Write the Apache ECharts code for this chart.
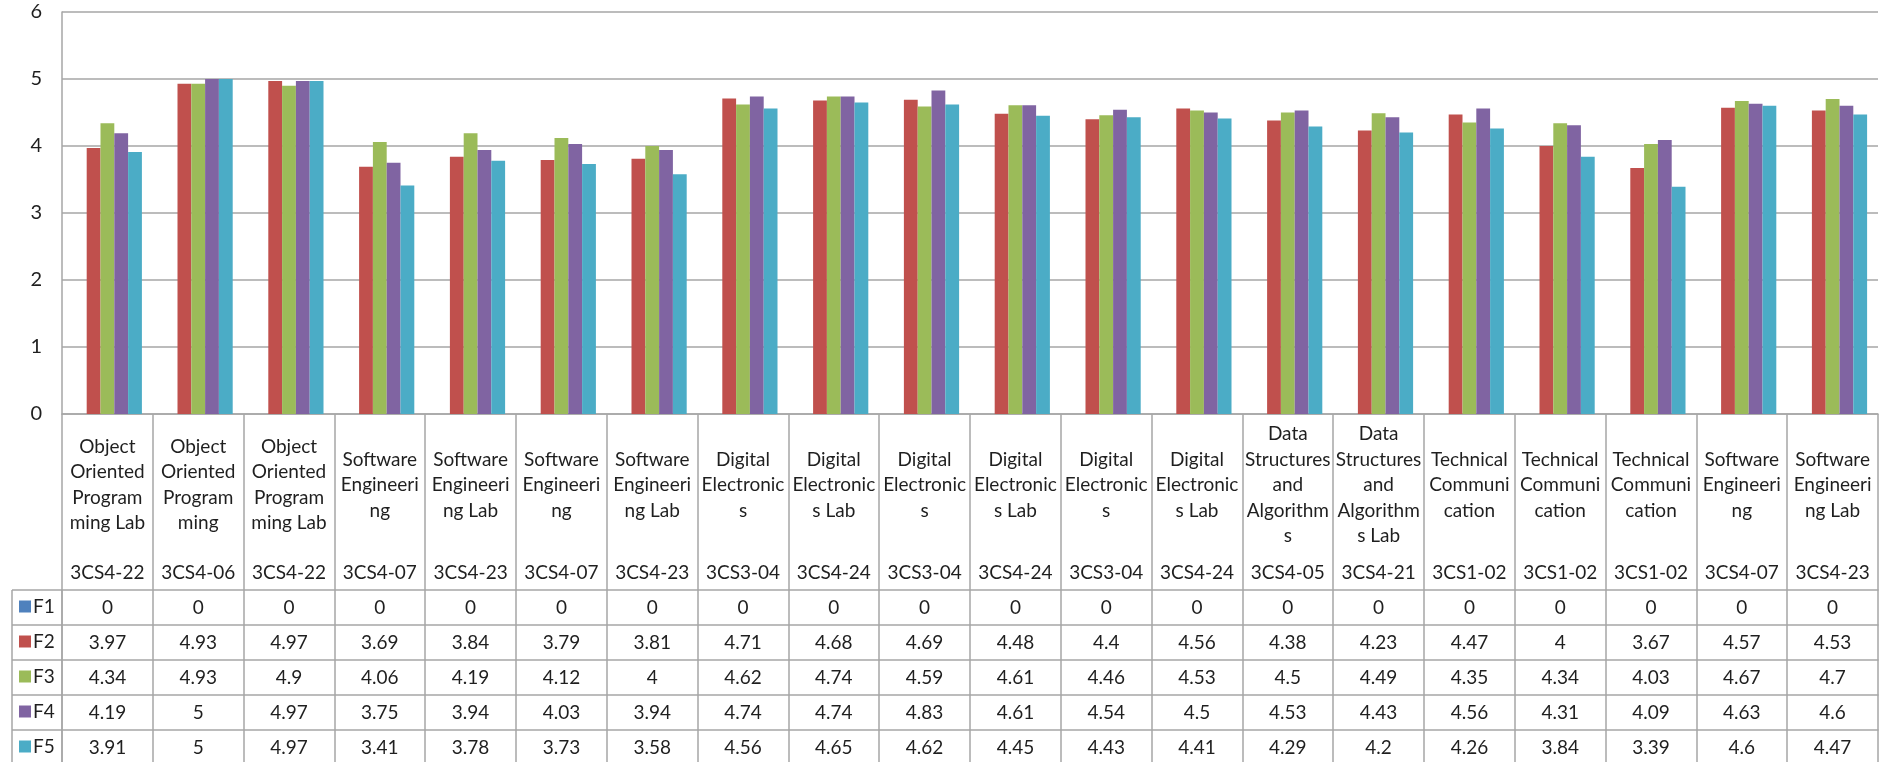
<!DOCTYPE html>
<html>
<head>
<meta charset="utf-8">
<script src="https://cdn.jsdelivr.net/npm/echarts@6/dist/echarts.min.js"></script>
<style>
  html, body { margin: 0; padding: 0; background: #fff; }
  #chart { width: 1884px; height: 762px; }
</style>
</head>
<body>
<div id="chart"></div>
<script>
// course names (wrapped as in the cell) and course codes
const courseNames = [
  "Object\nOriented\nProgram\nming Lab", "Object\nOriented\nProgram\nming", "Object\nOriented\nProgram\nming Lab",
  "Software\nEngineeri\nng", "Software\nEngineeri\nng Lab", "Software\nEngineeri\nng", "Software\nEngineeri\nng Lab",
  "Digital\nElectronic\ns", "Digital\nElectronic\ns Lab", "Digital\nElectronic\ns", "Digital\nElectronic\ns Lab",
  "Digital\nElectronic\ns", "Digital\nElectronic\ns Lab",
  "Data\nStructures\nand\nAlgorithm\ns", "Data\nStructures\nand\nAlgorithm\ns Lab",
  "Technical\nCommuni\ncation", "Technical\nCommuni\ncation", "Technical\nCommuni\ncation",
  "Software\nEngineeri\nng", "Software\nEngineeri\nng Lab"
];
const courseCodes = [
  "3CS4-22", "3CS4-06", "3CS4-22", "3CS4-07", "3CS4-23", "3CS4-07", "3CS4-23",
  "3CS3-04", "3CS4-24", "3CS3-04", "3CS4-24", "3CS3-04", "3CS4-24",
  "3CS4-05", "3CS4-21", "3CS1-02", "3CS1-02", "3CS1-02", "3CS4-07", "3CS4-23"
];

const seriesNames = ["F1", "F2", "F3", "F4", "F5"];
const f1 = [0, 0, 0, 0, 0, 0, 0, 0, 0, 0, 0, 0, 0, 0, 0, 0, 0, 0, 0, 0];
const f2 = [3.97, 4.93, 4.97, 3.69, 3.84, 3.79, 3.81, 4.71, 4.68, 4.69, 4.48, 4.4, 4.56, 4.38, 4.23, 4.47, 4, 3.67, 4.57, 4.53];
const f3 = [4.34, 4.93, 4.9, 4.06, 4.19, 4.12, 4, 4.62, 4.74, 4.59, 4.61, 4.46, 4.53, 4.5, 4.49, 4.35, 4.34, 4.03, 4.67, 4.7];
const f4 = [4.19, 5, 4.97, 3.75, 3.94, 4.03, 3.94, 4.74, 4.74, 4.83, 4.61, 4.54, 4.5, 4.53, 4.43, 4.56, 4.31, 4.09, 4.63, 4.6];
const f5 = [3.91, 5, 4.97, 3.41, 3.78, 3.73, 3.58, 4.56, 4.65, 4.62, 4.45, 4.43, 4.41, 4.29, 4.2, 4.26, 3.84, 3.39, 4.6, 4.47];
const allSeries = [f1, f2, f3, f4, f5];
const colors = ["#4F81BD", "#C0504D", "#9BBB59", "#8064A2", "#4BACC6"];

const yTicks = [0, 1, 2, 3, 4, 5, 6];

// layout
const FONT = "Lato, 'Liberation Sans', sans-serif";
const LINE = "#a6a6a6";
const TXT = "#1f1f1f";
const gridLeft = 62, gridTop = 12, plotBottom = 414;
const headerH = 176, rowH = 35, tableLeft = 12;

const chart = echarts.init(document.getElementById("chart"));

const xAxes = [
  {
    type: "category", gridIndex: 0, position: "bottom", data: courseNames,
    axisLine: { show: true, lineStyle: { color: LINE, width: 1.5 } },
    axisTick: { show: true, length: headerH, interval: 0, lineStyle: { color: LINE, width: 1.5 } },
    axisLabel: {
      interval: 0, margin: 71, verticalAlign: "middle", align: "center",
      fontFamily: FONT, fontSize: 19, lineHeight: 25.5, color: TXT
    }
  },
  {
    type: "category", gridIndex: 0, position: "bottom", data: courseCodes,
    axisLine: { show: false }, axisTick: { show: false },
    axisLabel: {
      interval: 0, margin: 159, verticalAlign: "middle", align: "center",
      fontFamily: FONT, fontSize: 19, color: TXT
    }
  }
];
allSeries.forEach((vals, i) => {
  xAxes.push({
    type: "category", gridIndex: 0, position: "bottom", offset: headerH + i * rowH,
    data: vals.map(v => String(v)),
    axisLine: { show: true, lineStyle: { color: LINE, width: 1.5 } },
    axisTick: { show: true, length: rowH, interval: 0, lineStyle: { color: LINE, width: 1.5 } },
    axisLabel: {
      interval: 0, margin: rowH / 2, verticalAlign: "middle", align: "center",
      fontFamily: FONT, fontSize: 19, color: TXT
    }
  });
});

const legends = seriesNames.map((name, i) => ({
  data: [name],
  orient: "vertical",
  left: tableLeft + 7,
  top: plotBottom + headerH + i * rowH + 7,
  padding: 0,
  itemWidth: 12, itemHeight: 12, itemGap: 0,
  icon: "rect",
  textStyle: { fontFamily: FONT, fontSize: 19, color: TXT, padding: [0, 0, 0, -3] }
}));

// borders of the legend column
const legendCol = [];
legendCol.push({
  type: "line", shape: { x1: tableLeft, y1: plotBottom + headerH, x2: tableLeft, y2: 762 },
  style: { stroke: LINE, lineWidth: 1.5 }
});
for (let i = 0; i < seriesNames.length; i++) {
  const y = plotBottom + headerH + i * rowH;
  legendCol.push({
    type: "line", shape: { x1: tableLeft, y1: y, x2: gridLeft, y2: y },
    style: { stroke: LINE, lineWidth: 1.5 }
  });
}
legendCol.push({
  type: "line", shape: { x1: gridLeft, y1: plotBottom + headerH, x2: gridLeft, y2: 762 },
  style: { stroke: LINE, lineWidth: 1.5 }
});

chart.setOption({
  animation: false,
  color: colors,
  grid: { left: gridLeft, right: 6, top: gridTop, bottom: 762 - plotBottom, containLabel: false },
  legend: legends,
  xAxis: xAxes,
  yAxis: {
    type: "value", min: yTicks[0], max: yTicks[yTicks.length - 1], interval: 1,
    axisLine: { show: true, lineStyle: { color: LINE, width: 1.5 } },
    axisTick: { show: false },
    splitLine: { show: true, lineStyle: { color: LINE, width: 1.5 } },
    axisLabel: { margin: 20, fontFamily: FONT, fontSize: 20, color: TXT }
  },
  graphic: legendCol,
  series: allSeries.map((vals, i) => ({
    name: seriesNames[i],
    type: "bar",
    xAxisIndex: 0,
    data: vals,
    barGap: "0%",
    barCategoryGap: "24%",
    itemStyle: { color: colors[i] }
  }))
});
</script>
</body>
</html>
